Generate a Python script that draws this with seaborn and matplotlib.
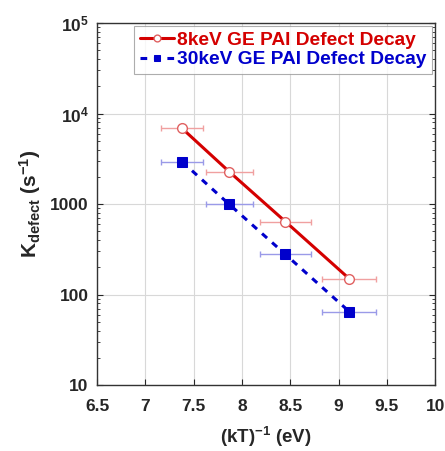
import matplotlib
matplotlib.use('Agg')
import matplotlib.pyplot as plt
import numpy as np
import pandas as pd
import seaborn as sns
from matplotlib.ticker import FixedLocator, LogLocator, NullFormatter

# values
inv_kt = [7.38, 7.87, 8.45, 9.11]
inv_kt_err = [0.22, 0.24, 0.26, 0.28]
k_8kev = [6860, 2270, 640, 150]
k_30kev = [2940, 990, 278, 65]
series_names = ["8keV GE PAI Defect Decay", "30keV GE PAI Defect Decay"]

sns.set_style("ticks")
plt.rcParams['font.family'] = ['Liberation Sans', 'DejaVu Sans']
plt.rcParams['font.weight'] = 'bold'
plt.rcParams['mathtext.fontset'] = 'custom'
plt.rcParams['mathtext.rm'] = 'Liberation Sans:bold'
plt.rcParams['mathtext.it'] = 'Liberation Sans:bold'
plt.rcParams['mathtext.bf'] = 'Liberation Sans:bold'

df = pd.DataFrame({
    "x": inv_kt * 2,
    "k": k_8kev + k_30kev,
    "series": [series_names[0]] * 4 + [series_names[1]] * 4,
})

red = "#d40000"
blue = "#0000cc"

fig = plt.figure(figsize=(4.45, 4.51), dpi=100)
ax = fig.add_axes([0.218, 0.146, 0.76, 0.803])

# error bars
ax.errorbar(inv_kt, k_8kev, xerr=inv_kt_err, fmt='none', ecolor="#f0a0a0",
            elinewidth=1.0, capsize=2.5, capthick=1.0, zorder=2)
ax.errorbar(inv_kt, k_30kev, xerr=inv_kt_err, fmt='none', ecolor="#9a9ae8",
            elinewidth=1.0, capsize=2.5, capthick=1.0, zorder=2)

sns.lineplot(data=df[df.series == series_names[0]], x="x", y="k", ax=ax,
             color=red, lw=2.2, marker='o', markersize=7,
             markerfacecolor='white', markeredgecolor="#e06060", markeredgewidth=1.0,
             label=series_names[0], zorder=3)
sns.lineplot(data=df[df.series == series_names[1]], x="x", y="k", ax=ax,
             color=blue, lw=2.2, linestyle=(0, (2.2, 2.2)), marker='s', markersize=7,
             markerfacecolor=blue, markeredgecolor=blue,
             label=series_names[1], zorder=3)

ax.set_yscale('log')
ax.set_xlim(6.5, 10)
ax.set_ylim(10, 1e5)
ax.set_xticks(np.arange(6.5, 10.01, 0.5))
ax.set_xticklabels(['6.5', '7', '7.5', '8', '8.5', '9', '9.5', '10'])
ax.yaxis.set_major_locator(FixedLocator([10, 100, 1000, 1e4, 1e5]))
ax.set_yticklabels(['10', '100', '1000', r'10$^{4}$', r'10$^{5}$'])
ax.yaxis.set_minor_locator(LogLocator(base=10, subs=np.arange(2, 10)))
ax.yaxis.set_minor_formatter(NullFormatter())

ax.tick_params(axis='both', which='both', direction='in', labelsize=12.5)
ax.tick_params(axis='y', which='both', right=True)
ax.tick_params(axis='y', which='major', length=4, pad=6)
ax.tick_params(axis='y', which='minor', length=2)
ax.tick_params(axis='x', which='major', length=4, pad=10)

ax.grid(True, which='major', color='#d8d8d8', lw=0.8)
for s in ax.spines.values():
    s.set_color('#333333')
    s.set_linewidth(1.0)

ax.set_xlabel(r"(kT)$^{\mathbf{-1}}$ (eV)", fontsize=13.5, fontweight='bold', labelpad=8)
ax.set_ylabel(r"K$_{\mathbf{defect}}$ (s$^{\mathbf{-1}}$)", fontsize=15, fontweight='bold', labelpad=5)

leg = ax.legend(loc='upper right', fontsize=13.8, frameon=True, fancybox=False,
                borderaxespad=0.15, handlelength=1.8, handletextpad=0.15,
                labelspacing=0.1, borderpad=0.3, markerscale=0.7)
leg.get_frame().set_edgecolor('#999999')
leg.get_frame().set_linewidth(0.8)
for txt, c in zip(leg.get_texts(), [red, blue]):
    txt.set_color(c)
    txt.set_fontweight('bold')

fig.savefig("out.png", dpi=100)
